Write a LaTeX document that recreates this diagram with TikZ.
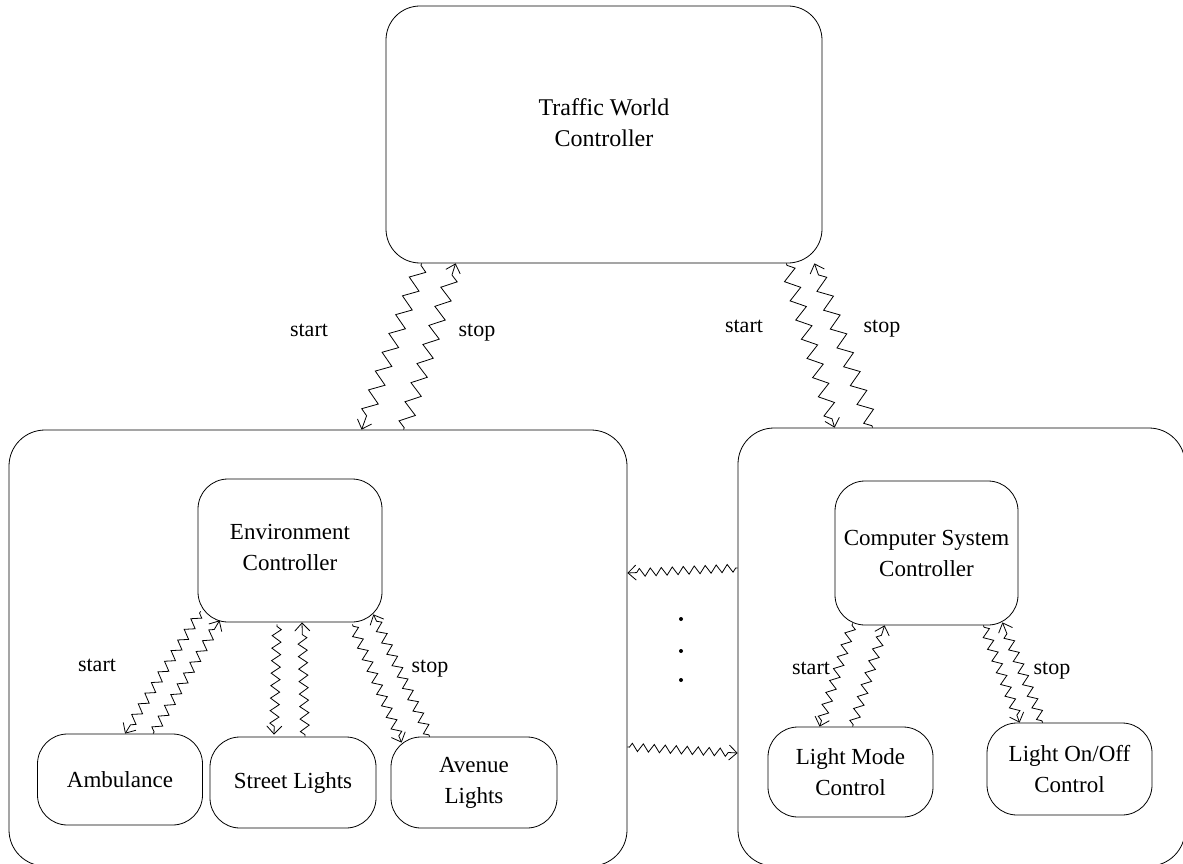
\documentclass[tikz,border=0pt]{standalone}
\usepackage{fontspec}
\setmainfont{Liberation Serif}
\usetikzlibrary{decorations.pathmorphing,arrows.meta}

\tikzset{
  box/.style={draw, line width=0.8pt, rounded corners=#1, inner sep=0pt,
              align=center, font=\fontsize{23}{31}\selectfont},
  box/.default=30pt,
  lbl/.style={anchor=base, inner sep=0pt, font=\fontsize{22}{26}\selectfont},
  tip/.style={-{Straight Barb[length=8pt,width=15pt,line width=0.8pt]}},
  bigzz/.style={tip, line width=0.8pt, decorate,
    decoration={zigzag, segment length=20pt, amplitude=7pt,
                pre length=2pt, post length=8pt}},
  smallzz/.style={tip, line width=0.8pt, decorate,
    decoration={zigzag, segment length=12.5pt, amplitude=4.5pt,
                pre length=2pt, post length=6pt}},
  flatzz/.style={tip, line width=0.8pt, decorate,
    decoration={zigzag, segment length=11pt, amplitude=4pt,
                pre length=2pt, post length=6pt}},
  dot/.style={circle, fill, inner sep=0pt, minimum size=4pt}
}

\begin{document}
\begin{tikzpicture}[x=1pt, y=-1pt]
\useasboundingbox (0,0) rectangle (1183,864);

% top-level controller
\node[box=34pt, minimum width=436pt, minimum height=257pt] (twc) at (604,134.5) {};
\node[align=center, inner sep=0pt, font=\fontsize{24}{31}\selectfont]
      (twct) at (604,123) {Traffic World\\Controller};

% environment domain
\node[box=36pt, minimum width=618pt, minimum height=436pt] (env) at (318,648) {};
\node[box, minimum width=184pt, minimum height=143pt, text depth=6pt] (envc) at (290,550.5)
      {Environment\\Controller};
\node[box, minimum width=165pt, minimum height=91pt] (amb) at (120,779.5) {Ambulance};
\node[box, minimum width=166pt, minimum height=91pt] (street) at (293,782.5) {Street Lights};
\node[box, minimum width=166pt, minimum height=91pt, text depth=5pt] (avenue) at (474,782.5)
      {Avenue\\Lights};

% computer system domain
\node[box=36pt, minimum width=447pt, minimum height=438pt] (cs) at (961.5,647) {};
\node[box, minimum width=183pt, minimum height=144pt] (csc) at (926.5,553)
      {Computer System\\Controller};
\node[box, minimum width=165pt, minimum height=90pt] (mode) at (850.5,772)
      {Light Mode\\Control};
\node[box, minimum width=165pt, minimum height=92pt] (onoff) at (1069.5,769)
      {Light On/Off\\Control};

% top level signals
\draw[bigzz] ([shift={(36,0)}]twc.south west) -- ([shift={(353,0)}]env.north west);
\draw[bigzz] ([shift={(395,0)}]env.north west) -- ([shift={(70,0)}]twc.south west);
\draw[bigzz] ([shift={(-36,0)}]twc.south east) -- ([shift={(97,0)}]cs.north west);
\draw[bigzz] ([shift={(135,0)}]cs.north west) -- ([shift={(-8,0)}]twc.south east);
\node[lbl] (l1) at (309,336) {start};
\node[lbl] (l2) at (477,336) {stop};
\node[lbl] (l3) at (744,332) {start};
\node[lbl] (l4) at (882,332) {stop};

% environment signals
\draw[smallzz] ([shift={(3,-11)}]envc.south west) -- ([shift={(88,0)}]amb.north west);
\draw[smallzz] ([shift={(116,0)}]amb.north west) -- ([shift={(22,-2)}]envc.south west);
\draw[smallzz] ([shift={(-13,2)}]envc.south) -- ([shift={(-19,-2)}]street.north);
\draw[smallzz] ([shift={(12,0)}]street.north) -- ([shift={(12,0)}]envc.south);
\draw[smallzz] ([shift={(-30,2)}]envc.south east) -- ([shift={(11,6)}]avenue.north west);
\draw[smallzz] ([shift={(39,0)}]avenue.north west) -- ([shift={(-9,-8)}]envc.south east);
\node[lbl] (l5) at (97,671) {start};
\node[lbl] (l6) at (430,672) {stop};

% computer system signals
\draw[smallzz] ([shift={(18,-2)}]csc.south west) -- ([shift={(52,0)}]mode.north west);
\draw[smallzz] ([shift={(85,0)}]mode.north west) -- ([shift={(50,0)}]csc.south west);
\draw[smallzz] ([shift={(-35,0)}]csc.south east) -- ([shift={(33,0)}]onoff.north west);
\draw[smallzz] ([shift={(56,0)}]onoff.north west) -- ([shift={(-16,-3)}]csc.south east);
\node[lbl] (l7) at (811,674) {start};
\node[lbl] (l8) at (1052,674) {stop};

% signals between the two domains
\draw[flatzz] ([shift={(0,-79)}]cs.west) -- ([shift={(0,-75)}]env.east);
\draw[flatzz] ([shift={(0,99)}]env.east) -- ([shift={(0,106)}]cs.west);
\node[dot] (d1) at (681,619) {};
\node[dot] (d2) at (681,651) {};
\node[dot] (d3) at (681,680) {};
\end{tikzpicture}
\end{document}
